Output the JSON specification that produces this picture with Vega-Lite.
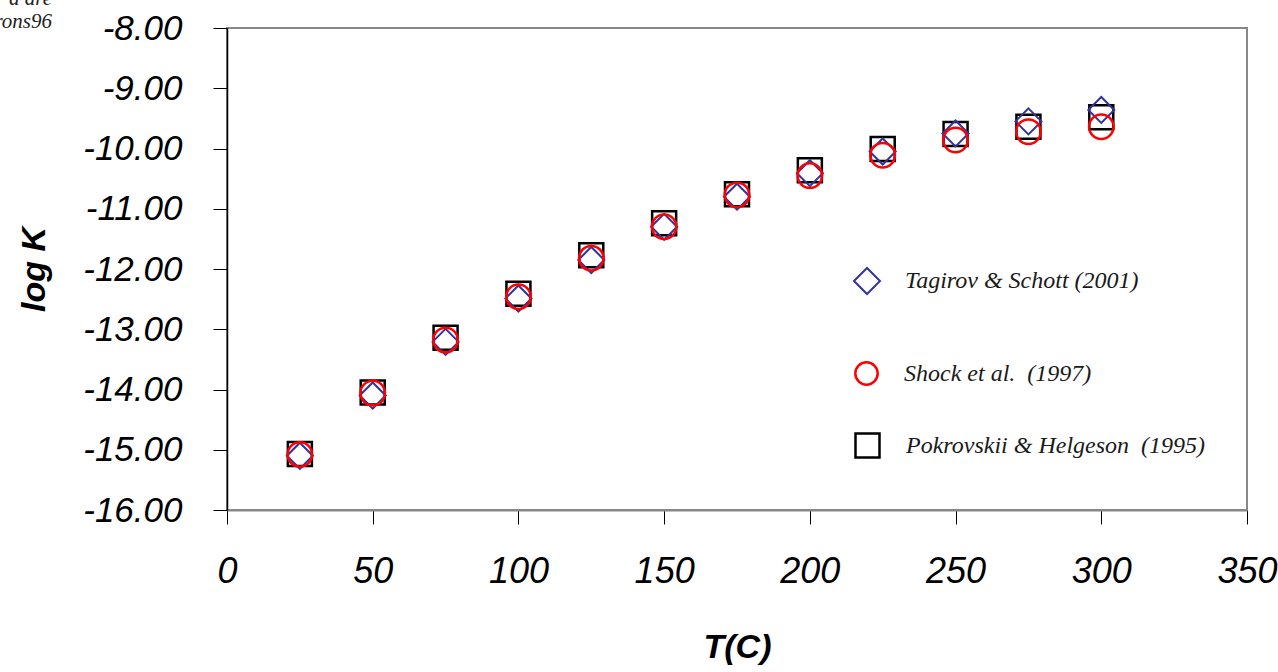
{
  "$schema": "https://vega.github.io/schema/vega-lite/v6.json",
  "autosize": "none",
  "width": 1020,
  "height": 482,
  "padding": {"left": 227, "top": 28, "right": 31, "bottom": 162},
  "background": "white",
  "title": {
    "text": ["a are", "rons96"],
    "anchor": "start",
    "frame": "group",
    "align": "right",
    "dx": -175,
    "offset": -21,
    "font": "Liberation Serif",
    "fontStyle": "italic",
    "fontWeight": "normal",
    "fontSize": 21,
    "lineHeight": 23,
    "color": "#222222"
  },
  "config": {
    "view": {"stroke": "#888888", "strokeWidth": 2},
    "axis": {
      "labelFont": "Liberation Sans",
      "labelFontStyle": "italic",
      "labelFontSize": 35,
      "labelColor": "#000000",
      "titleFont": "Liberation Sans",
      "titleFontStyle": "italic",
      "titleFontWeight": "bold",
      "titleFontSize": 34,
      "titleColor": "#000000",
      "grid": false,
      "tickColor": "#000000",
      "tickSize": 14
    }
  },
  "data": {
    "values": [
      {"T": 25, "logK": -15.07, "source": "Pokrovskii"},
      {"T": 50, "logK": -14.05, "source": "Pokrovskii"},
      {"T": 75, "logK": -13.14, "source": "Pokrovskii"},
      {"T": 100, "logK": -12.41, "source": "Pokrovskii"},
      {"T": 125, "logK": -11.77, "source": "Pokrovskii"},
      {"T": 150, "logK": -11.24, "source": "Pokrovskii"},
      {"T": 175, "logK": -10.76, "source": "Pokrovskii"},
      {"T": 200, "logK": -10.36, "source": "Pokrovskii"},
      {"T": 225, "logK": -10.01, "source": "Pokrovskii"},
      {"T": 250, "logK": -9.76, "source": "Pokrovskii"},
      {"T": 275, "logK": -9.64, "source": "Pokrovskii"},
      {"T": 300, "logK": -9.48, "source": "Pokrovskii"},
      {"T": 25, "logK": -15.10, "source": "Tagirov"},
      {"T": 50, "logK": -14.10, "source": "Tagirov"},
      {"T": 75, "logK": -13.21, "source": "Tagirov"},
      {"T": 100, "logK": -12.49, "source": "Tagirov"},
      {"T": 125, "logK": -11.85, "source": "Tagirov"},
      {"T": 150, "logK": -11.30, "source": "Tagirov"},
      {"T": 175, "logK": -10.80, "source": "Tagirov"},
      {"T": 200, "logK": -10.41, "source": "Tagirov"},
      {"T": 225, "logK": -10.05, "source": "Tagirov"},
      {"T": 250, "logK": -9.75, "source": "Tagirov"},
      {"T": 275, "logK": -9.55, "source": "Tagirov"},
      {"T": 300, "logK": -9.36, "source": "Tagirov"},
      {"T": 25, "logK": -15.08, "source": "Shock"},
      {"T": 50, "logK": -14.06, "source": "Shock"},
      {"T": 75, "logK": -13.18, "source": "Shock"},
      {"T": 100, "logK": -12.46, "source": "Shock"},
      {"T": 125, "logK": -11.82, "source": "Shock"},
      {"T": 150, "logK": -11.30, "source": "Shock"},
      {"T": 175, "logK": -10.77, "source": "Shock"},
      {"T": 200, "logK": -10.45, "source": "Shock"},
      {"T": 225, "logK": -10.11, "source": "Shock"},
      {"T": 250, "logK": -9.86, "source": "Shock"},
      {"T": 275, "logK": -9.72, "source": "Shock"},
      {"T": 300, "logK": -9.64, "source": "Shock"}
    ]
  },
  "encoding": {
    "x": {
      "field": "T", "type": "quantitative", "title": "T(C)",
      "scale": {"domain": [0, 350], "nice": false, "zero": false},
      "axis": {"values": [0, 50, 100, 150, 200, 250, 300, 350], "labelFlush": false, "labelFontSize": 36, "labelPadding": 30, "titlePadding": 41, "domainColor": "#888888", "domainWidth": 2}
    },
    "y": {
      "field": "logK", "type": "quantitative", "title": "log K",
      "scale": {"domain": [-16, -8], "nice": false, "zero": false},
      "axis": {"values": [-16, -15, -14, -13, -12, -11, -10, -9, -8], "format": ".2f", "labelExpr": "replace(datum.label, '\u2212', '-')", "labelPadding": 31, "titlePadding": 31, "domainColor": "#000000", "domainWidth": 1.5}
    }
  },
  "layer": [
    {
      "transform": [{"filter": "datum.source === 'Pokrovskii'"}],
      "mark": {"type": "point", "filled": false, "opacity": 1, "stroke": "#000000", "strokeWidth": 2.5, "size": 576},
      "encoding": {
        "shape": {
          "field": "source", "type": "nominal",
          "scale": {"domain": ["Pokrovskii"], "range": ["square"]},
          "legend": {
            "orient": "none", "legendX": 627, "legendY": 404, "title": null,
            "labelExpr": "'Pokrovskii & Helgeson\u00a0 (1995)'",
            "symbolStrokeColor": "#000000", "symbolStrokeWidth": 2.5, "symbolSize": 576, "symbolFillColor": "transparent", "symbolOpacity": 1,
            "labelFont": "Liberation Serif", "labelFontStyle": "italic", "labelFontSize": 24, "labelColor": "#1a1a1a", "labelOffset": 25, "labelLimit": 400
          }
        }
      }
    },
    {
      "transform": [{"filter": "datum.source === 'Tagirov'"}],
      "mark": {"type": "point", "filled": false, "opacity": 1, "stroke": "#333399", "strokeWidth": 2, "size": 676},
      "encoding": {
        "shape": {
          "field": "source", "type": "nominal",
          "scale": {"domain": ["Tagirov"], "range": ["diamond"]},
          "legend": {
            "orient": "none", "legendX": 626, "legendY": 239, "title": null,
            "labelExpr": "'Tagirov & Schott (2001)'",
            "symbolStrokeColor": "#333399", "symbolStrokeWidth": 2, "symbolSize": 676, "symbolFillColor": "transparent", "symbolOpacity": 1,
            "labelFont": "Liberation Serif", "labelFontStyle": "italic", "labelFontSize": 24, "labelColor": "#1a1a1a", "labelOffset": 24, "labelLimit": 400
          }
        }
      }
    },
    {
      "transform": [{"filter": "datum.source === 'Shock'"}],
      "mark": {"type": "point", "filled": false, "opacity": 1, "stroke": "#ff0000", "strokeWidth": 2.5, "size": 600},
      "encoding": {
        "shape": {
          "field": "source", "type": "nominal",
          "scale": {"domain": ["Shock"], "range": ["circle"]},
          "legend": {
            "orient": "none", "legendX": 627, "legendY": 333, "title": null,
            "labelExpr": "'Shock et al.\u00a0 (1997)'",
            "symbolStrokeColor": "#ff0000", "symbolStrokeWidth": 2.5, "symbolSize": 500, "symbolFillColor": "transparent", "symbolOpacity": 1,
            "labelFont": "Liberation Serif", "labelFontStyle": "italic", "labelFontSize": 24, "labelColor": "#1a1a1a", "labelOffset": 25, "labelLimit": 400
          }
        }
      }
    }
  ],
  "resolve": {"scale": {"shape": "independent"}, "legend": {"shape": "independent"}}
}
